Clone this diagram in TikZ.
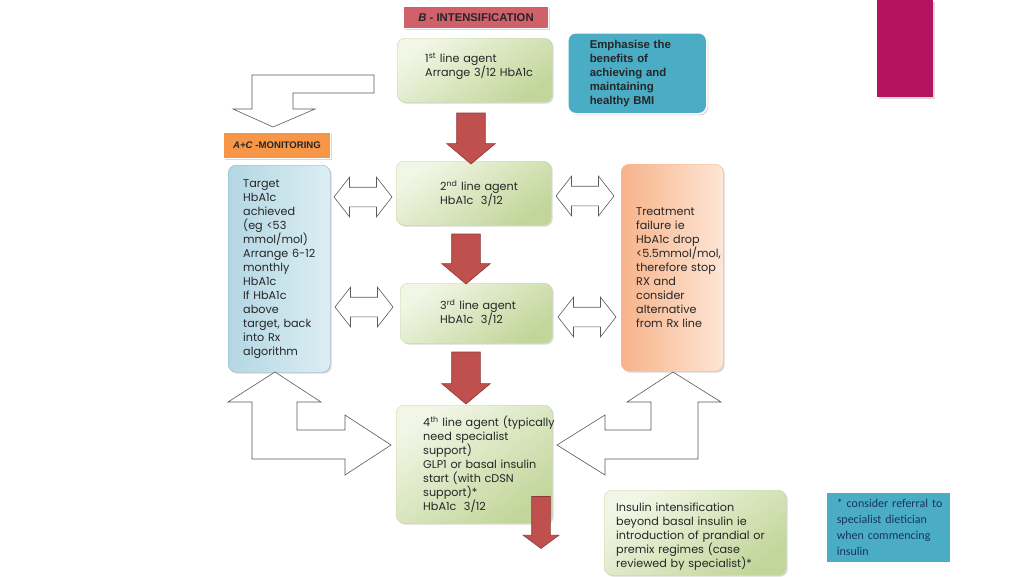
\documentclass[tikz,border=0pt]{standalone}
\usepackage{fontspec}
\setmainfont{Poppins}
\newfontfamily\headfont{Liberation Sans}
\newfontfamily\notefont{Carlito}
\usetikzlibrary{shapes.arrows, shadows}
\definecolor{greenlight}{HTML}{F2F6E6}
\definecolor{greendark}{HTML}{C2D69A}
\definecolor{greenline}{HTML}{C6D8A4}
\definecolor{textgray}{HTML}{262626}
\definecolor{redfill}{HTML}{C0504D}
\definecolor{redline}{HTML}{8C3A38}
\definecolor{titlered}{HTML}{D0606A}
\definecolor{monorange}{HTML}{F79646}
\definecolor{bmiblue}{HTML}{4BACC6}
\definecolor{paleblue}{HTML}{B3D7E3}
\definecolor{paleblue2}{HTML}{DCEEF3}
\definecolor{blueline}{HTML}{8FB6C4}
\definecolor{peach}{HTML}{F7B38A}
\definecolor{peach2}{HTML}{FDE6D6}
\definecolor{peachline}{HTML}{F4B892}
\definecolor{arrowgray}{HTML}{595959}
\definecolor{notetext}{HTML}{17365D}
\definecolor{magenta}{HTML}{B5135F}
\tikzset{pad/.style={execute at begin node={\parindent=0pt\hyphenpenalty=10000\leftskip=#1pt\rightskip=-40pt plus 1fil}}}

\begin{document}
\begin{tikzpicture}[x=1pt, y=-1pt]
\tikzstyle{every node}+=[inner sep=0pt]
\tikzstyle{shade}=[drop shadow={shadow xshift=1.5pt, shadow yshift=-1.5pt, opacity=0.3}]
\tikzstyle{box}=[shade, rounded corners=8pt, anchor=north west, text=textgray, font=\fontsize{11.2}{14}\selectfont]
\tikzstyle{greenbox}=[box, draw=greenline, top color=greenlight, bottom color=greendark, shading angle=35]
\tikzstyle{tag}=[shade, anchor=north west, draw=white, line width=1pt, text=textgray, font=\headfont\bfseries]
\tikzstyle{redarrow}=[single arrow, rotate=-90, fill=redfill, draw=redline, line width=0.6pt, inner xsep=0pt, inner ysep=14pt, single arrow head extend=10pt, single arrow tip angle=100]
\tikzstyle{twoway}=[double arrow, fill=white, draw=arrowgray, line width=0.6pt, inner xsep=0pt, inner ysep=9.5pt, double arrow head extend=10pt, double arrow tip angle=104, minimum height=58pt]
\tikzstyle{hollow}=[fill=white, draw=arrowgray, line width=0.6pt, line join=miter]
\useasboundingbox (0,0) rectangle (1024,576);
% corner bar
\fill[magenta, shade] (877,0) rectangle (933,97);
% headings
\node[tag, fill=titlered, minimum width=145, minimum height=22, font=\headfont\bfseries\fontsize{11.3}{12}\selectfont] (intens) at (403,6) {\textit{B} - INTENSIFICATION};
\node[tag, fill=monorange, minimum width=107, minimum height=26, font=\headfont\bfseries\fontsize{9.6}{10}\selectfont] (monit) at (223,132) {\textit{A+C} -MONITORING};
% boxes
\node[greenbox, pad=28, text width=155, minimum height=64] (first) at (397,38) {1\textsuperscript{st} line agent\\Arrange 3/12 HbA1c\\[-4pt]\mbox{}};
\node[box, draw=white, line width=1.5pt, fill=bmiblue, pad=22, text width=139, minimum height=81, font=\headfont\bfseries\fontsize{11.4}{14}\selectfont] (bmi) at (567,32) {Emphasise the\\benefits of\\achieving and\\maintaining\\healthy BMI};
\node[greenbox, pad=44, text width=155, minimum height=64] (second) at (396,161) {2\textsuperscript{nd} line agent\\HbA1c\ \ 3/12};
\node[greenbox, pad=40, text width=152, minimum height=60] (third) at (400,283) {3\textsuperscript{rd} line agent\\HbA1c\ \ 3/12\\[-10pt]\mbox{}};
\node[greenbox, pad=27, text width=156, minimum height=118] (fourth) at (396,405) {4\textsuperscript{th} line agent (typically\\need specialist\\support)\\GLP1 or basal insulin\\start (with cDSN\\support)*\\HbA1c\ \ 3/12};
\node[greenbox, pad=12, text width=182, minimum height=85] (insulin) at (604,490) {\vskip3pt Insulin intensification\\beyond basal insulin ie\\introduction of prandial or\\premix regimes (case\\reviewed by specialist)*};
\node[box, draw=blueline, left color=paleblue, right color=paleblue2, pad=15, text width=102, minimum height=207] (target) at (228,165) {Target\\HbA1c\\achieved\\(eg <53\\mmol/mol)\\Arrange 6-12\\monthly\\HbA1c\\If HbA1c\\above\\target, back\\into Rx\\algorithm};
\node[box, draw=peachline, left color=peach, right color=peach2, pad=15, text width=102, minimum height=207] (failure) at (621,164) {Treatment\\failure ie\\HbA1c drop\\<5.5mmol/mol,\\therefore stop\\RX and\\consider\\alternative\\from Rx line};
\node[shade, anchor=north west, fill=bmiblue, draw=white, line width=1.5pt, text=notetext, pad=11, text width=125, minimum height=71, font=\notefont\fontsize{12}{16}\selectfont] (note) at (825,491) {* consider referral to\\specialist dietician\\when commencing\\insulin};
% down arrows
\node[redarrow, minimum height=51] (down1) at (471,132.5) {};
\node[redarrow, minimum height=50] (down2) at (466,253) {};
\node[redarrow, minimum height=52] (down3) at (466,372) {};
\node[redarrow, minimum height=52, inner ysep=9pt, single arrow head extend=8.5pt, single arrow tip angle=107] (down4) at (541,519) {};
% two-way arrows
\node[twoway] (lt1) at (363,197) {};
\node[twoway] (lt2) at (364,307) {};
\node[twoway] (rt1) at (585,196) {};
\node[twoway] (rt2) at (587,317) {};
% bent arrows
\draw[hollow] (374,75) -- (252,75) -- (252,109) -- (233,109) -- (273,127) -- (315,109) -- (293,109) -- (293,93) -- (374,93) -- cycle;
\draw[hollow] (275,372) -- (321,402) -- (297,402) -- (297,430) -- (345,430) -- (345,415) -- (391,445) -- (345,475) -- (345,459) -- (252,459) -- (252,402) -- (228,402) -- cycle;
\draw[hollow] (673,372) -- (721,402) -- (698,402) -- (698,459) -- (605,459) -- (605,475) -- (557,445) -- (605,415) -- (605,430) -- (651,430) -- (651,402) -- (627,402) -- cycle;
\end{tikzpicture}
\end{document}
